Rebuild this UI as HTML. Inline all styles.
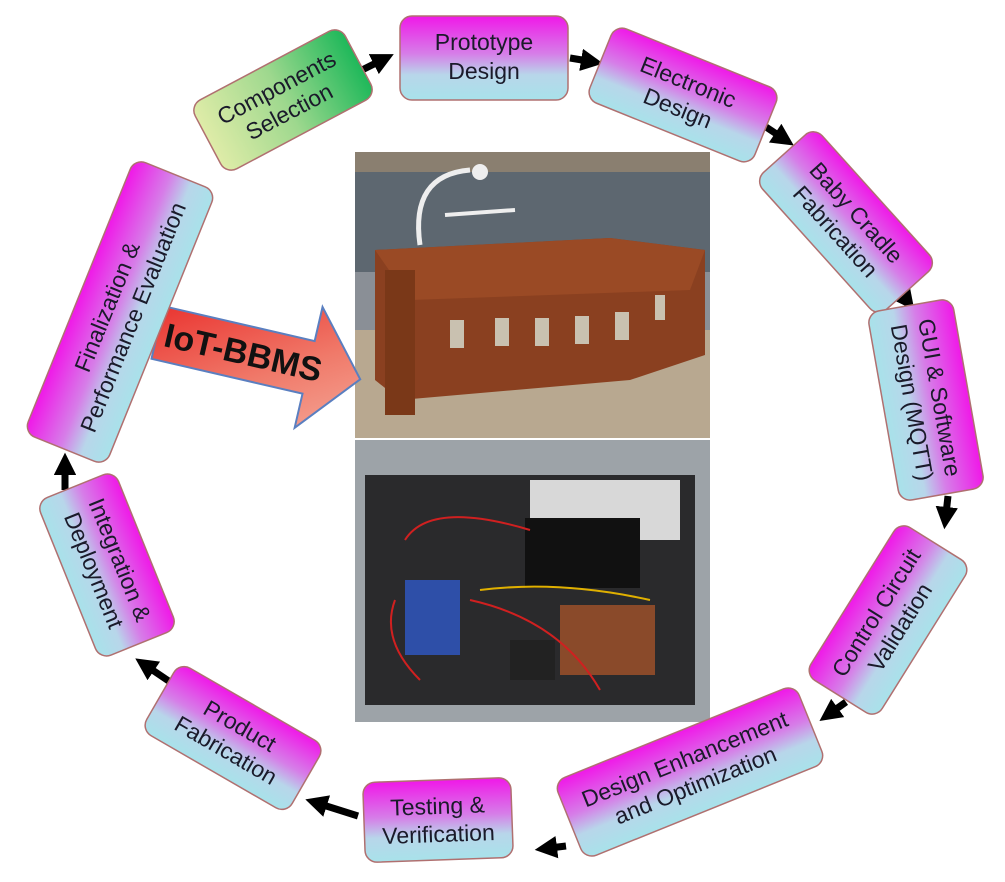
<!DOCTYPE html>
<html><head><meta charset="utf-8"><style>
html,body{margin:0;padding:0;background:#fff;}
svg{display:block;}
text{font-family:"Liberation Sans","DejaVu Sans",sans-serif;}
</style></head><body>
<svg width="1005" height="882" viewBox="0 0 1005 882" xmlns="http://www.w3.org/2000/svg">
<defs>
<linearGradient id="mg" x1="0" y1="0" x2="0" y2="1">
<stop offset="0" stop-color="#f018e8"/><stop offset="0.45" stop-color="#d67ee8"/><stop offset="0.7" stop-color="#b8d6ea"/><stop offset="1" stop-color="#a8e2ea"/></linearGradient>
<linearGradient id="gg" x1="0" y1="0" x2="1" y2="0">
<stop offset="0" stop-color="#dfeca8"/><stop offset="0.5" stop-color="#9ed88e"/><stop offset="1" stop-color="#1fb85a"/></linearGradient>
<linearGradient id="rg" x1="0" y1="0" x2="1" y2="1">
<stop offset="0" stop-color="#e82020"/><stop offset="0.6" stop-color="#f07a6a"/><stop offset="1" stop-color="#f5a898"/></linearGradient>
<marker id="ah" markerWidth="3.2" markerHeight="3.2" refX="1" refY="1.6" orient="auto" markerUnits="strokeWidth">
<path d="M0,0 L3.2,1.6 L0,3.2z" fill="#000"/></marker>
</defs>

<!-- photos -->
<rect x="355" y="152" width="355" height="286" fill="#8a8f96"/>
<rect x="355" y="152" width="355" height="120" fill="#5d6770"/>
<rect x="355" y="330" width="355" height="108" fill="#b8a890"/>
<rect x="355" y="152" width="355" height="20" fill="#8a7f70"/>
<path d="M420,245 Q410,175 470,170" stroke="#eee" stroke-width="5" fill="none"/>
<circle cx="480" cy="172" r="8" fill="#eee"/>
<path d="M445,215 L515,210" stroke="#eee" stroke-width="4"/>
<polygon points="375,250 610,238 705,250 705,355 630,380 400,400 375,380" fill="#8a4020"/>
<polygon points="375,250 610,238 705,250 690,290 410,300" fill="#9a4a25"/>
<g fill="#c9c1b0"><rect x="450" y="320" width="14" height="28"/><rect x="495" y="318" width="14" height="28"/><rect x="535" y="318" width="14" height="28"/><rect x="575" y="316" width="14" height="28"/><rect x="615" y="312" width="14" height="28"/><rect x="655" y="295" width="10" height="25"/></g>
<rect x="385" y="270" width="30" height="145" fill="#7a3818"/>
<rect x="355" y="440" width="355" height="282" fill="#9da3a8"/>
<rect x="365" y="475" width="330" height="230" fill="#2a2a2c"/>
<rect x="530" y="480" width="150" height="60" fill="#d8d8d8"/>
<rect x="525" y="518" width="115" height="70" fill="#111"/>
<rect x="405" y="580" width="55" height="75" fill="#2e4fa8"/>
<rect x="560" y="605" width="95" height="70" fill="#8a4a2a"/>
<rect x="510" y="640" width="45" height="40" fill="#222"/>
<path d="M405,540 Q430,500 530,530 M395,600 Q380,640 420,680 M470,600 Q560,620 600,690" stroke="#d02020" stroke-width="2" fill="none"/>
<path d="M480,590 Q560,580 650,600" stroke="#e0b000" stroke-width="2" fill="none"/>

<!-- IoT-BBMS arrow -->
<g transform="translate(255,355) rotate(13)">
<polygon points="-100,-27 55,-27 55,-62 108,0 55,62 55,27 -100,27" fill="url(#rg)" stroke="#5a7fc0" stroke-width="2"/>
<text x="-12" y="12" font-size="34" font-weight="bold" text-anchor="middle" fill="#111">IoT-BBMS</text>
</g>

<!-- connector arrows -->
<g stroke="#000" stroke-width="7" fill="none" marker-end="url(#ah)">
<line x1="362" y1="70" x2="380" y2="61"/>
<line x1="570" y1="58" x2="588" y2="61"/>
<line x1="766" y1="127" x2="781" y2="137"/>
<line x1="895" y1="285" x2="905" y2="298"/>
<line x1="948" y1="496" x2="946" y2="514"/>
<line x1="846" y1="702" x2="832" y2="712"/>
<line x1="566" y1="846" x2="550" y2="848"/>
<line x1="358" y1="816" x2="320" y2="804"/>
<line x1="182" y1="690" x2="148" y2="667"/>
<line x1="65" y1="490" x2="65" y2="468"/>
</g>

<!-- boxes -->
<g font-size="23" fill="#1a1a2a" text-anchor="middle">
<g transform="translate(283,100) rotate(-28)"><rect x="-85" y="-39" width="170" height="78" rx="12" fill="url(#gg)" stroke="#b07070" stroke-width="1.5"/><text y="-6">Components</text><text y="21">Selection</text></g>
<g transform="translate(484,58)"><rect x="-84" y="-42" width="168" height="84" rx="12" fill="url(#mg)" stroke="#b07070" stroke-width="1.5"/><text y="-8">Prototype</text><text y="21">Design</text></g>
<g transform="translate(683,95) rotate(22)"><rect x="-89" y="-40" width="178" height="80" rx="12" fill="url(#mg)" stroke="#b07070" stroke-width="1.5"/><text y="-6">Electronic</text><text y="22">Design</text></g>
<g transform="translate(846,222) rotate(48)"><rect x="-92" y="-40" width="184" height="80" rx="12" fill="url(#mg)" stroke="#b07070" stroke-width="1.5"/><text y="-6">Baby Cradle</text><text y="22">Fabrication</text></g>
<g transform="translate(926,400) rotate(80)"><rect x="-96" y="-43" width="192" height="86" rx="12" fill="url(#mg)" stroke="#b07070" stroke-width="1.5"/><text y="-6">GUI &amp; Software</text><text y="22">Design (MQTT)</text></g>
<g transform="translate(888,620) rotate(-58)"><rect x="-90" y="-42" width="180" height="84" rx="12" fill="url(#mg)" stroke="#b07070" stroke-width="1.5"/><text y="-6">Control Circuit</text><text y="22">Validation</text></g>
<g transform="translate(690,772) rotate(-22)"><rect x="-130" y="-42" width="260" height="84" rx="12" fill="url(#mg)" stroke="#b07070" stroke-width="1.5"/><text y="-6">Design Enhancement</text><text y="22">and Optimization</text></g>
<g transform="translate(438,820) rotate(-2)"><rect x="-74" y="-40" width="148" height="80" rx="12" fill="url(#mg)" stroke="#b07070" stroke-width="1.5"/><text y="-6">Testing &amp;</text><text y="22">Verification</text></g>
<g transform="translate(233,738) rotate(30)"><rect x="-84" y="-39" width="168" height="78" rx="12" fill="url(#mg)" stroke="#b07070" stroke-width="1.5"/><text y="-6">Product</text><text y="22">Fabrication</text></g>
<g transform="translate(107,565) rotate(68)"><rect x="-85" y="-42" width="170" height="84" rx="12" fill="url(#mg)" stroke="#b07070" stroke-width="1.5"/><text y="-6">Integration &amp;</text><text y="22">Deployment</text></g>
<g transform="translate(120,312) rotate(-68)"><rect x="-148" y="-44" width="296" height="88" rx="12" fill="url(#mg)" stroke="#b07070" stroke-width="1.5"/><text y="-6">Finalization &amp;</text><text y="22">Performance Evaluation</text></g>
</g>
</svg>
</body></html>
